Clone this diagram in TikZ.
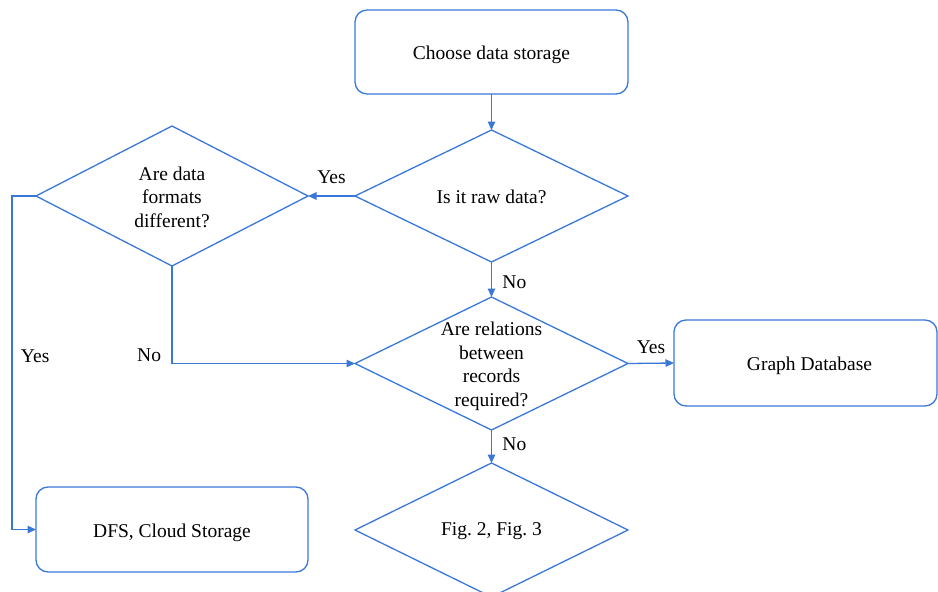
\documentclass[tikz,border=0pt]{standalone}
\usepackage{fontspec}
\setmainfont{Liberation Serif}
\usetikzlibrary{shapes.geometric,arrows.meta}
\definecolor{fc}{RGB}{58,120,216}
\begin{document}
\begin{tikzpicture}[x=1pt,y=-1pt,
  txt/.style={font=\fontsize{19.5}{23.5}\selectfont,align=center,text=black},
  box/.style={draw=fc,line width=1.3pt,rounded corners=12pt,minimum width=273pt,
    minimum height=84pt,inner sep=0pt,outer sep=0pt,txt,text height=15pt,text depth=0pt},
  dia/.style={draw=fc,line width=1.3pt,diamond,minimum width=273pt,
    minimum height=132pt,inner sep=0pt,outer sep=0pt},
  conn/.style={draw=fc,line width=1.3pt,-{Triangle[length=8.5pt,width=7.5pt]}},
  lbl/.style={txt}]
\useasboundingbox (0,0) rectangle (938,592);

\node[box] (choose) at (491.5,52) {Choose data storage};
\node[dia,label={[txt,yshift=-1pt]center:{Is it raw data?}}] (raw) at (491.5,196) {};
\node[dia,minimum width=272pt,minimum height=140pt,
  label={[txt,yshift=-1pt]center:{Are data\\formats\\different?}}] (fmt) at (172,196) {};
\node[dia,minimum height=133pt,
  label={[txt,yshift=-3pt]center:{Are relations\\between\\records\\required?}}] (rel) at (491.5,363.5) {};
\node[box,minimum width=263pt,minimum height=86pt,
  label={[txt,xshift=4pt,yshift=-3pt]center:{Graph Database}}] (graph) at (805.5,363) {};
\node[box,minimum width=272pt,minimum height=85pt] (dfs) at (172,529.5) {DFS, Cloud Storage};
\node[dia,minimum height=134pt,label={[txt,yshift=-1pt]center:{Fig.~2, Fig.~3}}] (fig) at (491.5,530) {};

\draw[conn] (choose) -- (raw);
\draw[conn] (raw.west) -- node[lbl,above=8pt] {Yes} (fmt.east);
\draw[conn] (raw.south) -- node[lbl,right=7pt,yshift=-3pt] {No} (rel.north);
\draw[conn] (fmt.west) -- ++(-24,0) |- node[lbl,pos=0.24,right=5pt] {Yes} (dfs.west);
\draw[conn] (fmt.south) |- node[lbl,pos=0.46,left=7pt] {No} (rel.west);
\draw[conn] (rel.east) -- node[lbl,above=6pt] {Yes} (graph.west);
\draw[conn] (rel.south) -- node[lbl,right=7pt,yshift=2pt] {No} (fig.north);
\end{tikzpicture}
\end{document}
